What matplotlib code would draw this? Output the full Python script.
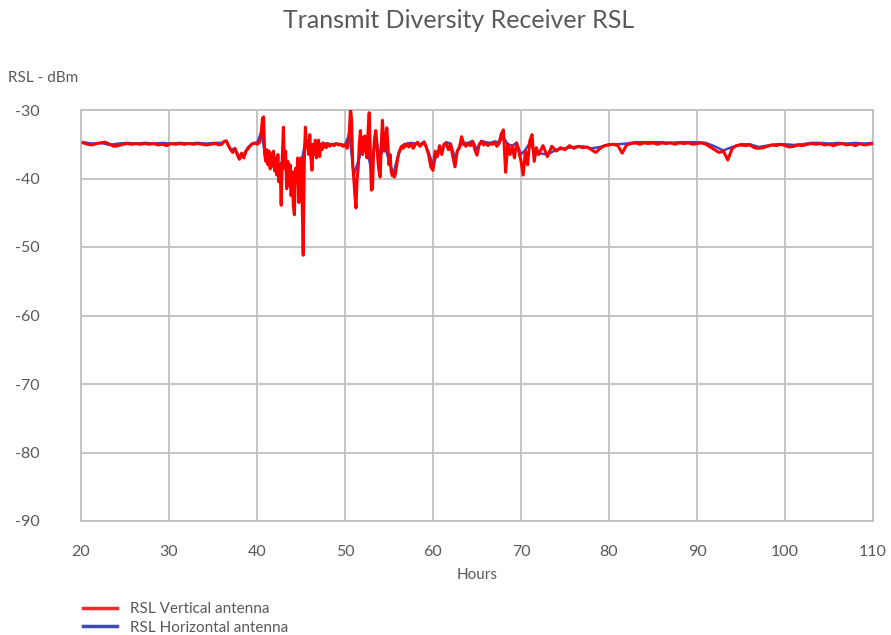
import numpy as np
import matplotlib
matplotlib.use("Agg")
import matplotlib.pyplot as plt
from matplotlib.lines import Line2D

# ---------------- data ----------------
# Vertical antenna (red)
hours_v_a = np.arange(20.25, 36.0, 0.5)
rsl_v_a = [-34.8, -35.0, -35.1, -34.9, -34.8, -34.7, -35.0, -35.3,
           -35.2, -35.0, -34.9, -35.0, -34.9, -35.0, -34.9, -35.0,
           -34.9, -35.1, -35.0, -35.2, -34.9, -35.0, -34.9, -35.0,
           -34.9, -35.0, -34.9, -35.0, -35.1, -35.0, -34.9, -35.1]

hours_v_b1 = np.arange(36.0, 40.0, 0.25)
rsl_v_b1 = [-35.0, -34.6, -34.5, -35.2, -35.8, -36.2, -35.6, -36.5,
            -37.2, -36.3, -37.0, -36.0, -35.6, -35.2, -34.9, -34.8]

hours_v_b2 = np.arange(40.0, 48.0, 0.125)
rsl_v_b2 = [
    -35.0, -34.9, -34.8, -34.2, -33.0, -31.2, -31.0, -36.5,   # 40.0
    -37.5, -35.8, -38.0, -36.0, -38.6, -36.4, -38.2, -36.0,   # 41.0
    -38.9, -37.0, -39.5, -36.5, -40.5, -38.0, -43.9, -37.0,   # 42.0
    -32.5, -38.5, -36.0, -41.5, -37.5, -41.0, -38.0, -42.5,   # 43.0
    -39.0, -43.9, -45.3, -38.5, -40.5, -37.0, -43.5, -38.5,   # 44.0
    -37.0, -43.0, -51.2, -37.5, -32.5, -35.5, -34.5, -36.5,   # 45.0
    -33.6, -37.0, -38.8, -35.0, -36.5, -34.4, -37.0, -35.2,   # 46.0
    -34.4, -36.8, -35.0, -35.8, -34.8, -35.4, -35.0, -35.5,   # 47.0
]

hours_v_b3 = np.arange(48.0, 50.0, 0.25)
rsl_v_b3 = [-34.9, -35.3, -35.0, -35.2, -34.9, -35.1, -35.0, -35.3]

hours_v_b4 = np.arange(50.0, 57.0, 0.125)
rsl_v_b4 = [
    -35.1, -35.4, -35.6, -34.5, -33.0, -29.7, -31.5, -38.0,   # 50.0
    -40.0, -42.5, -44.3, -40.0, -38.5, -35.0, -33.0, -35.5,   # 51.0
    -36.5, -34.0, -33.8, -36.0, -37.0, -33.0, -30.4, -36.0,   # 52.0
    -41.7, -41.5, -36.0, -34.0, -33.0, -35.0, -37.5, -39.0,   # 53.0
    -39.8, -35.0, -31.5, -34.0, -36.0, -34.0, -32.6, -35.0,   # 54.0
    -38.0, -36.5, -39.0, -39.6, -39.5, -39.8, -39.2, -38.0,   # 55.0
    -37.0, -36.2, -35.8, -35.4, -35.3, -35.6, -35.0, -35.3,   # 56.0
]

hours_v_b5 = np.arange(57.0, 72.0, 0.25)
rsl_v_b5 = [
    -35.0, -35.4, -34.9, -35.6,                               # 57.00-57.75
    -35.0, -34.7, -35.3, -35.0, -34.7, -35.5, -36.5, -38.3,   # 58.00-59.75
    -38.8, -36.0, -36.8, -35.2, -36.5, -35.0, -34.8, -35.8,   # 60.00-61.75
    -35.0, -36.8, -38.3, -36.0, -35.5, -33.9, -35.0, -35.3,   # 62.00-63.75
    -34.9, -35.2, -34.6, -35.8, -36.6, -35.0, -34.6, -35.1,   # 64.00-65.75
    -34.8, -35.2, -34.9, -35.0, -34.7, -35.3, -34.9, -33.5,   # 66.00-67.75
    -32.9, -39.1, -35.0, -36.5, -35.3, -37.0, -34.8, -36.0,   # 68.00-69.75
    -37.5, -39.5, -36.0, -38.0, -34.5, -33.6, -37.5, -35.5,   # 70.00-71.75
]

hours_v_c = np.arange(72.0, 110.01, 0.5)
rsl_v_c = [
    -36.5, -35.2, -36.8, -35.3, -36.0, -35.5, -35.8, -35.2,   # 72.0-75.5
    -35.6, -35.3, -35.5, -35.4, -35.8, -36.2, -35.6, -35.2,   # 76.0-79.5
    -35.1, -35.0, -35.2, -36.3, -35.1, -34.9, -34.8, -35.0,   # 80.0-83.5
    -34.8, -34.9, -34.8, -35.0, -34.8, -34.9, -34.8, -35.0,   # 84.0-87.5
    -34.8, -34.9, -34.8, -35.0, -34.9, -34.8, -35.0, -35.4,   # 88.0-91.5
    -35.8, -36.2, -36.0, -37.3, -35.6, -35.2, -35.1, -35.2,   # 92.0-95.5
    -35.1, -35.5, -35.6, -35.5, -35.3, -35.1, -35.2, -35.0,   # 96.0-99.5
    -35.2, -35.4, -35.3, -35.1, -35.2, -35.0, -34.9, -35.0,   # 100.0-103.5
    -34.9, -35.1, -35.0, -35.2, -35.0, -34.9, -35.1, -35.0,   # 104.0-107.5
    -35.2, -34.9, -35.1, -35.0, -34.9,                        # 108.0-110.0
]

# Horizontal antenna (blue)
hours_h_a = np.arange(20.25, 36.0, 1.0)
rsl_h_a = [-34.7, -34.9, -34.8, -35.1, -34.9, -34.8, -34.9, -34.8,
           -34.9, -34.8, -34.9, -34.8, -34.9, -34.8, -34.9, -34.8]

hours_h_b = np.arange(36.0, 72.0, 0.5)
rsl_h_b = [
    -34.8, -34.5, -35.7, -35.7, -36.8, -36.5, -35.4, -34.9,   # 36.0-39.5
    -34.8, -33.2, -37.2, -37.5, -37.8, -38.5, -37.0, -38.5,   # 40.0-43.5
    -40.0, -39.5, -38.0, -34.5, -35.5, -35.8, -35.2, -34.9,   # 44.0-47.5
    -34.9, -35.0, -34.9, -35.0, -35.1, -33.5, -39.5, -37.5,   # 48.0-51.5
    -35.5, -35.5, -39.0, -34.0, -37.0, -35.0, -37.5, -39.3,   # 52.0-55.5
    -36.8, -35.2, -34.9, -34.8, -34.9, -35.1, -34.6, -36.2,   # 56.0-59.5
    -38.0, -36.4, -35.8, -34.7, -34.9, -37.0, -35.3, -34.8,   # 60.0-63.5
    -34.8, -34.5, -35.8, -34.5, -34.7, -34.8, -34.6, -34.7,   # 64.0-67.5
    -34.0, -35.0, -35.2, -34.8, -36.5, -35.8, -34.8, -36.0,   # 68.0-71.5
]

hours_h_c = np.arange(72.0, 110.01, 1.0)
rsl_h_c = [-36.3, -36.5, -35.8, -35.6, -35.4, -35.3, -35.6, -35.4,
           -35.0, -35.0, -34.9, -34.7, -34.7, -34.7, -34.7, -34.8,
           -34.7, -34.7, -34.7, -34.8, -35.3, -35.9, -35.4, -35.0,
           -35.0, -35.4, -35.2, -35.0, -35.0, -35.1, -35.0, -34.8,
           -34.8, -34.9, -34.8, -34.9, -34.8, -34.9, -34.8]

x_ticks = [20, 30, 40, 50, 60, 70, 80, 90, 100, 110]
y_ticks = [-90, -80, -70, -60, -50, -40, -30]

hours_v = np.concatenate([hours_v_a, hours_v_b1, hours_v_b2, hours_v_b3,
                          hours_v_b4, hours_v_b5, hours_v_c])
rsl_v = np.array(rsl_v_a + rsl_v_b1 + rsl_v_b2 + rsl_v_b3 + rsl_v_b4
                 + rsl_v_b5 + rsl_v_c)
hours_h = np.concatenate([hours_h_a, hours_h_b, hours_h_c])
rsl_h = np.array(rsl_h_a + rsl_h_b + rsl_h_c)

# ---------------- style ----------------
plt.rcParams['font.family'] = ['Lato', 'DejaVu Sans']
plt.rcParams['axes.unicode_minus'] = False
text_color = '#595959'
grid_color = '#c0c0c0'
red = '#ff0000'
blue = '#3f48cc'

fig = plt.figure(figsize=(8.91, 6.35), dpi=100)
ax = fig.add_axes([81 / 891, 1 - 521 / 635, (873 - 81) / 891, (521 - 110) / 635])

ax.plot(hours_h, rsl_h, color=blue, lw=1.8, zorder=3)
ax.plot(hours_v, rsl_v, color=red, lw=2.2, zorder=4)

ax.set_xlim(20, 110)
ax.set_ylim(-90, -30)
ax.set_xticks(x_ticks)
ax.set_yticks(y_ticks)
ax.grid(True, color=grid_color, lw=1.3, zorder=0)
for s in ax.spines.values():
    s.set_color(grid_color)
    s.set_linewidth(1.3)
ax.tick_params(length=0, labelsize=11.5, colors=text_color)
ax.tick_params(axis='y', pad=30)
ax.tick_params(axis='x', pad=17)

ax.set_xlabel('Hours', color=text_color, fontsize=11, labelpad=7)
fig.text(8 / 891, 1 - 78 / 635, 'RSL - dBm', color=text_color, fontsize=11,
         ha='left', va='center')
fig.text(459 / 891, 1 - 20 / 635, 'Transmit Diversity Receiver RSL',
         color=text_color, fontsize=18, ha='center', va='center')

handles = [Line2D([], [], color='#ee2b2b', lw=2.5),
           Line2D([], [], color='#3f4bb0', lw=2.5)]
fig.legend(handles, ['RSL Vertical antenna', 'RSL Horizontal antenna'],
           loc='upper left', bbox_to_anchor=(83 / 891, 1 - 602 / 635),
           frameon=False, fontsize=11, labelcolor=text_color,
           handlelength=2.2, handletextpad=0.85, labelspacing=0.3,
           borderaxespad=0, borderpad=0)

fig.savefig('out.png', dpi=100)
